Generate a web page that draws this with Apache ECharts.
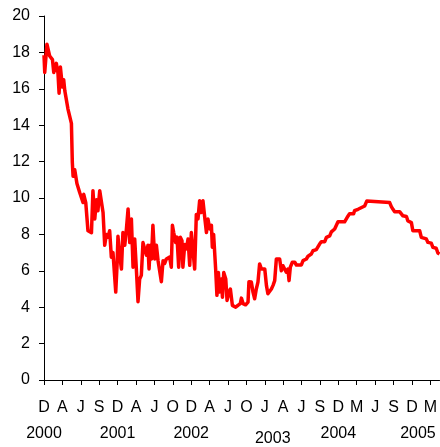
<!DOCTYPE html>
<html>
<head>
<meta charset="utf-8">
<script src="https://cdn.jsdelivr.net/npm/echarts@6/dist/echarts.min.js"></script>
<style>
  html, body { margin: 0; padding: 0; background: #fff; }
  #chart { width: 440px; height: 447px; }
</style>
</head>
<body>
<div id="chart"></div>
<script>
// tick labels along the bottom (one per tick)
const monthLabels = ['D', 'A', 'J', 'S', 'D', 'A', 'J', 'O', 'D', 'A', 'J', 'O',
  'J', 'A', 'J', 'S', 'D', 'M', 'J', 'S', 'D', 'M']
const yearTicks = [0, 4, 8, 12, 16, 20]
const yearLabels = ['2000', '2001', '2002', '2003', '2004', '2005']

// position along the axis, in tick units
const period = [
  0, 0.04, 0.16, 0.31, 0.46, 0.53, 0.67, 0.76, 0.82, 0.89, 1.0, 1.07, 1.13, 1.30, 1.40, 1.49,
  1.54, 1.58, 1.67, 1.79, 1.94, 2.03, 2.12, 2.16, 2.27, 2.39, 2.58, 2.66, 2.76, 2.85, 2.93,
  3.03, 3.12, 3.21, 3.30, 3.39, 3.48, 3.57, 3.66, 3.75, 3.90, 3.97, 4.02, 4.11, 4.21, 4.29,
  4.39, 4.48, 4.57, 4.66, 4.75, 4.84, 4.93, 5.02, 5.11, 5.20, 5.29, 5.38, 5.47, 5.57, 5.65,
  5.71, 5.78, 5.84, 5.92, 6.02, 6.11, 6.20, 6.29, 6.38, 6.47, 6.56, 6.65, 6.83, 6.92, 6.98,
  7.05, 7.16, 7.23, 7.32, 7.41, 7.50, 7.55, 7.65, 7.74, 7.83, 7.92, 8.01, 8.10, 8.19, 8.28,
  8.37, 8.46, 8.55, 8.64, 8.73, 8.83, 8.91, 9.01, 9.10, 9.15, 9.22, 9.33, 9.40, 9.48, 9.55,
  9.64, 9.70, 9.77, 9.88, 9.95, 10.05, 10.13, 10.24, 10.31, 10.42, 10.54, 10.67, 10.73,
  10.82, 10.96, 11.09, 11.14, 11.27, 11.36, 11.45, 11.54, 11.63, 11.72, 11.82, 12.0, 12.09,
  12.17, 12.27, 12.36, 12.45, 12.54, 12.63, 12.72, 12.81, 12.90, 12.99, 13.08, 13.17, 13.26,
  13.32, 13.39, 13.50, 13.63, 13.72, 13.99, 14.08, 14.26, 14.35, 14.53, 14.62, 14.80, 14.98,
  15.08, 15.26, 15.35, 15.53, 15.62, 15.80, 15.98, 16.34, 16.52, 16.61, 16.83, 16.88, 17.07,
  17.16, 17.43, 17.55, 17.65, 18.79, 18.88, 18.97, 19.06, 19.33, 19.51, 19.70, 19.78, 19.97,
  20.05, 20.42, 20.51, 20.78, 20.87, 21.05, 21.14, 21.32, 21.41, 21.5
]
const values = [
  17.85, 16.9, 18.45, 17.8, 17.6, 16.9, 17.4, 16.85, 15.76, 17.2, 16.1, 16.5, 15.9, 14.9, 14.8, 14.1,
  11.95, 11.2, 11.55, 10.8, 10.3, 10.2, 9.75, 10.2, 9.75, 8.2, 8.1, 10.4, 8.85, 9.9, 9.3,
  10.4, 10.3, 9.2, 7.4, 8.0, 7.85, 8.2, 6.75, 7.0, 4.83, 6.3, 7.9, 6.85, 6.1, 8.1,
  7.4, 8.3, 9.4, 7.55, 8.85, 6.2, 7.75, 6.1, 4.3, 5.55, 5.75, 7.55, 7.65, 6.85, 7.4,
  6.1, 7.4, 6.65, 8.5, 6.65, 7.4, 6.55, 6.45, 5.4, 6.55, 6.4, 6.65, 6.75, 6.2, 8.5,
  8.1, 7.55, 7.85, 6.2, 7.85, 7.65, 6.2, 7.45, 7.2, 7.75, 6.3, 8.1, 8.2, 6.1, 9.1,
  8.85, 9.85, 9.2, 9.85, 9.0, 8.1, 8.85, 8.3, 8.5, 7.3, 8.0, 6.1, 4.65, 5.9, 4.83,
  5.55, 4.55, 5.9, 5.55, 4.37, 4.83, 5.0, 4.1, 4.2, 4.0, 4.1, 4.2, 4.5,
  4.2, 4.13, 4.28, 5.4, 5.38, 4.83, 4.46, 5.0, 5.38, 6.38, 6.1, 6.1, 5.2,
  4.74, 4.74, 5.0, 5.2, 5.46, 6.65, 6.55, 6.65, 6.0, 6.28, 6.1, 5.92, 6.1,
  5.46, 6.2, 6.47, 6.47, 6.32, 6.32, 6.56, 6.65, 6.8, 6.92, 7.1, 7.16, 7.47,
  7.6, 7.6, 7.84, 7.92, 8.14, 8.3, 8.69, 8.69, 9.0, 9.14, 9.14, 9.3, 9.38,
  9.48, 9.56, 9.84, 9.75, 9.75, 9.53, 9.38, 9.25, 9.25, 9.02, 8.98, 8.74, 8.65,
  8.2, 8.2, 7.84, 7.75, 7.56, 7.52, 7.29, 7.24, 6.98, 6.92
]
const yTicks = [0, 2, 4, 6, 8, 10, 12, 14, 16, 18, 20]

const chart = echarts.init(document.getElementById('chart'), null, { renderer: 'canvas' })

const tickIdx = monthLabels.map((m, i) => i)
const font = 'Liberation Sans, Arial, sans-serif'

chart.setOption({
  animation: false,
  backgroundColor: '#fff',
  grid: { left: 44, right: 0, top: 16, bottom: 65 },
  xAxis: [
    {
      type: 'value',
      min: 0,
      max: 21.5,
      interval: 1,
      splitLine: { show: false },
      axisLine: { lineStyle: { color: '#000', width: 1 } },
      axisTick: { show: true, length: 5, customValues: tickIdx, lineStyle: { color: '#000' } },
      axisLabel: {
        customValues: tickIdx,
        showMinLabel: true,
        showMaxLabel: true,
        hideOverlap: false,
        margin: 20,
        color: '#000',
        fontFamily: font,
        fontSize: 16,
        formatter: v => monthLabels[Math.round(v)]
      }
    },
    {
      // second row: the years
      type: 'value',
      position: 'bottom',
      min: 0,
      max: 21.5,
      interval: 1,
      splitLine: { show: false },
      axisLine: { show: false },
      axisTick: { show: false },
      axisLabel: {
        customValues: yearTicks,
        showMinLabel: true,
        showMaxLabel: true,
        hideOverlap: false,
        margin: 46,
        color: '#000',
        fontFamily: font,
        fontSize: 16,
        formatter: function (v) {
          const i = yearTicks.indexOf(Math.round(v))
          const style = i === 3 ? 'y3' : (i === 5 ? 'y5' : 'y')
          return '{' + style + '|' + yearLabels[i] + '}'
        },
        rich: {
          y: { fontSize: 16, color: '#000' },
          y3: { fontSize: 16, color: '#000', padding: [5, 0, 0, 16] },
          y5: { fontSize: 16, color: '#000', padding: [0, 0, 0, 12] }
        }
      }
    }
  ],
  yAxis: {
    type: 'value',
    min: 0,
    max: 20,
    interval: 2,
    splitLine: { show: false },
    axisLine: { show: true, lineStyle: { color: '#000', width: 1 } },
    axisTick: { show: true, length: 5, lineStyle: { color: '#000' } },
    axisLabel: {
      customValues: yTicks,
      margin: 14,
      color: '#000',
      fontFamily: font,
      fontSize: 16
    }
  },
  series: [
    {
      type: 'line',
      xAxisIndex: 0,
      data: period.map((p, i) => [p, values[i]]),
      symbol: 'none',
      lineStyle: { color: '#ff0000', width: 3.5, join: 'round' }
    }
  ]
})
</script>
</body>
</html>
